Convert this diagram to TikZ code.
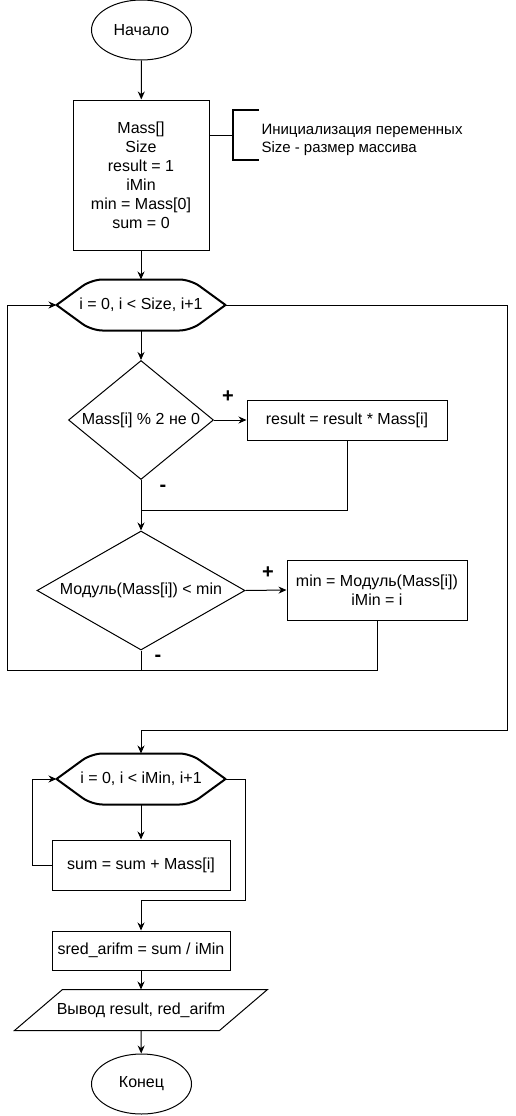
\documentclass[tikz,border=0pt]{standalone}
\usepackage{fontspec}
\setmainfont{Liberation Sans}
\usetikzlibrary{arrows.meta,shapes.geometric}
\begin{document}
\begin{tikzpicture}[x=1pt,y=-1pt,
  font=\fontsize{16}{19}\selectfont,
  line width=1pt,
  box/.style={draw, rectangle, inner sep=0pt, align=center},
  ghost/.style={rectangle, inner sep=0pt, align=center},
  term/.style={draw, ellipse, inner sep=0pt, minimum width=100pt, minimum height=60pt},
  cond/.style={draw, diamond, inner sep=0pt},
  arr/.style={-{Stealth[length=8pt,width=7pt]}},
  thickline/.style={line width=2pt},
  hexline/.style={line width=2pt, rounded corners=11pt, line cap=round, line join=round},
  sign/.style={font=\fontsize{20}{20}\selectfont\bfseries, inner sep=0pt}]
\useasboundingbox (0,0) rectangle (516,1116);

% nodes
\node[term] (start) at (141.5,30) {Начало};
\node[box, minimum width=136pt, minimum height=150pt] (init) at (141,175)
  {Mass[]\\Size\\result = 1\\iMin\\min = Mass[0]\\sum = 0};
\node[ghost, anchor=west, font=\fontsize{15}{18}\selectfont, align=left] (note) at (261,140)
  {Инициализация переменных\\Size - размер массива};

\node[ghost, minimum width=168pt, minimum height=50pt] (loop1) at (141,305) {i = 0, i < Size, i+1};
\draw[hexline] (loop1.west) -- ([xshift=35pt]loop1.north west) -- ([xshift=-35pt]loop1.north east) -- (loop1.east);
\draw[hexline] (loop1.west) -- ([xshift=35pt]loop1.south west) -- ([xshift=-35pt]loop1.south east) -- (loop1.east);

\node[cond, minimum width=145pt, minimum height=119pt] (d1) at (141,420) {};
\node[ghost] (d1t) at (d1.center) {Mass[i] \% 2 не 0};
\node[box, minimum width=200pt, minimum height=40pt] (r1) at (347,420) {result = result * Mass[i]};

\node[cond, minimum width=208pt, minimum height=119pt] (d2) at (141,590.5) {};
\node[ghost] (d2t) at (d2.center) {Модуль(Mass[i]) < min};
\node[box, minimum width=180pt, minimum height=60pt] (r2) at (377,590) {min = Модуль(Mass[i])\\iMin = i};

\node[ghost, minimum width=168pt, minimum height=50pt] (loop2) at (141,779) {i = 0, i < iMin, i+1};
\draw[hexline] (loop2.west) -- ([xshift=35pt]loop2.north west) -- ([xshift=-35pt]loop2.north east) -- (loop2.east);
\draw[hexline] (loop2.west) -- ([xshift=35pt]loop2.south west) -- ([xshift=-35pt]loop2.south east) -- (loop2.east);

\node[box, minimum width=178pt, minimum height=50pt] (sum) at (141,865) {sum = sum + Mass[i]};
\node[box, minimum width=178pt, minimum height=39pt] (sred) at (141,950.5) {sred\_arifm = sum / iMin};

\node[ghost, minimum width=252pt, minimum height=40pt] (out) at (141,1010) {Вывод result, red\_arifm};
\draw (out.south west) -- ([xshift=48pt]out.north west) -- (out.north east) -- ([xshift=-48pt]out.south east) -- cycle;

\node[term] (end) at (141.5,1084) {Конец};

% signs
\node[sign] (p1) at (228,397) {+};
\node[sign] (m1) at (163,488) {-};
\node[sign] (p2) at (268,573) {+};
\node[sign] (m2) at (158,658) {-};

% coordinates
\coordinate (brk) at (233,135);
\coordinate (join1) at (141,510);
\coordinate (lb) at (7,670);
\coordinate (ex1) at (507,730);
\coordinate (lx2) at (32,865);
\coordinate (ex2) at (245.7,900);

% connectors
\draw[arr] (start) -- (init);
\draw (init.east |- brk) -- (brk);
\draw[thickline] (259,110) -- (233,110) -- (233,160) -- (259,160);
\draw[arr] (init) -- (loop1);
\draw[arr] (loop1) -- (d1);
\draw[arr] (d1.east) -- (r1.west);
\draw (r1.south) |- (join1);
\draw[arr] (d1.south) -- (d2.north);
\draw[arr] (d2.east) -- (r2.west);
\draw (d2.south) -- (d2.south |- lb);
\draw[arr] (r2.south) |- (lb) |- (loop1.west);
\draw[arr] (loop1.east) -| (ex1) -| (loop2.north);
\draw[arr] (loop2) -- (sum);
\draw[arr] (sum.west) -- (lx2) |- (loop2.west);
\draw[arr] (loop2.east) -| (ex2) -| (sred.north);
\draw[arr] (sred) -- (out.north);
\draw[arr] (out.south) -- (end);
\end{tikzpicture}
\end{document}
